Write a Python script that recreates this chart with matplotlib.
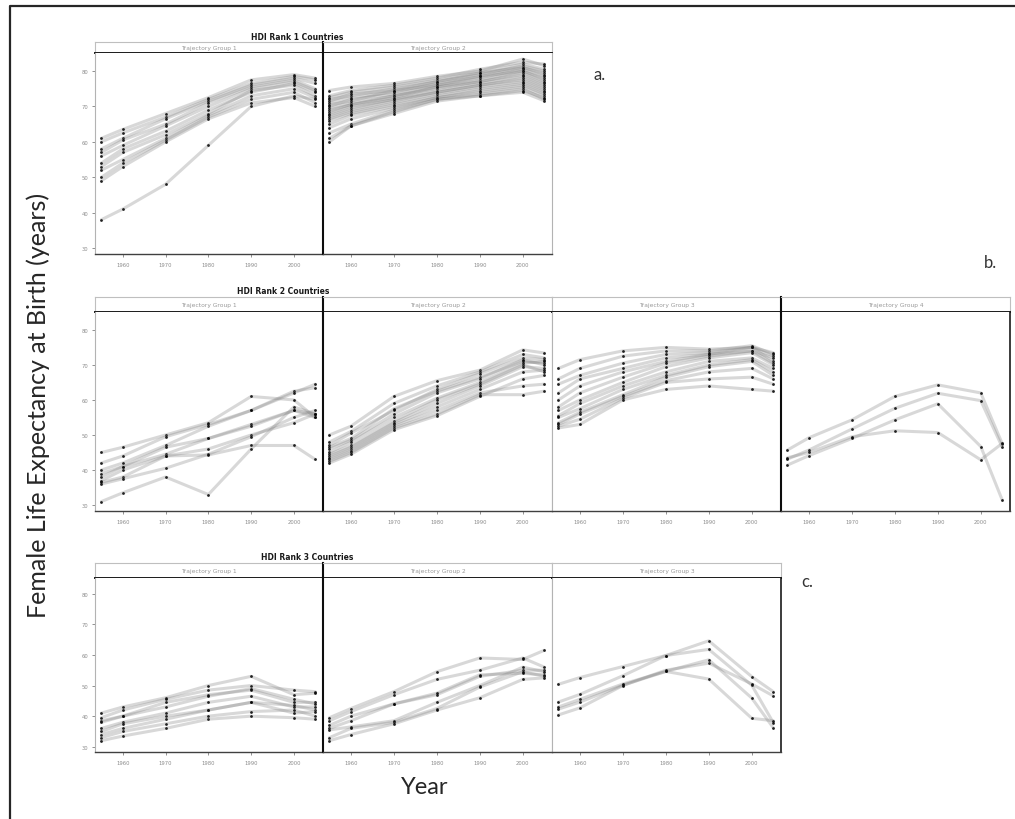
import matplotlib
matplotlib.use("Agg")
from matplotlib import pyplot as plt
from matplotlib.lines import Line2D

years = [1955, 1960, 1970, 1980, 1990, 2000, 2005]

# HDI rank 1 countries
rank1_group1 = [
    [61, 63.5, 68, 72.5, 77.5, 79, 78],
    [60, 62.5, 67, 72, 76.5, 78.5, 77.5],
    [58, 61, 66.5, 71.5, 76, 78, 76.5],
    [57, 60.5, 65, 71, 75.5, 77.5, 75],
    [56, 59, 64.5, 70, 75, 77, 74.5],
    [54, 58, 63, 69, 74, 76.5, 74],
    [53, 57, 62, 68, 74.5, 76, 73],
    [52, 55, 61, 67.5, 73, 75, 72.5],
    [50, 54, 60.5, 67, 72, 74, 71],
    [49, 53, 60, 66.5, 71, 72.5, 70],
    [38, 41, 48, 59, 70, 73, 72],
]
rank1_group2 = [
    [74.5, 75.5, 76.5, 78.5, 80, 83.4, 81.5],
    [73, 74.5, 76, 78, 80.5, 82.5, 82],
    [72.5, 74, 75.5, 77.5, 79.5, 82, 80.5],
    [72, 73, 75, 77, 79, 81.5, 80],
    [71.5, 73.5, 74.5, 77, 79.5, 81, 79.5],
    [71, 72.5, 74, 76.5, 78.5, 81, 79],
    [70.5, 71.5, 74.5, 76, 78, 80.5, 78.5],
    [70, 72, 73.5, 76, 78.5, 80, 78],
    [69.5, 71, 73, 75.5, 77.5, 80, 77.5],
    [69, 70.5, 73, 75, 77, 79.5, 77],
    [68.5, 70.5, 72.5, 75.5, 77, 79, 76.5],
    [68, 70, 72, 74.5, 76.5, 78.5, 76],
    [67.5, 69.5, 72, 74, 76, 78, 75.5],
    [67, 69, 71.5, 74, 76, 77.5, 75],
    [66.5, 68.5, 71, 73.5, 75.5, 77, 74.5],
    [66, 68, 70.5, 73, 75, 76.5, 74],
    [65, 67.5, 70, 72.5, 74.5, 76, 73.5],
    [64, 66.5, 69.5, 72.5, 74, 75.5, 73],
    [62.5, 65, 69, 72, 73.5, 75, 72],
    [61, 64.5, 68.5, 72, 73, 74, 71.6],
    [60, 64.5, 68, 71.5, 73, 74.5, 72.5],
]

# HDI rank 2 countries
rank2_group1 = [
    [45, 46.5, 50, 53.5, 61, 60, 55],
    [42, 44, 49.5, 53, 57, 62.5, 63.5],
    [40, 42, 47, 52.5, 57, 62, 64.5],
    [39, 41, 46.5, 49, 53, 57, 56],
    [38, 41, 44.5, 49, 52.5, 57, 55],
    [36.5, 38, 44, 46, 50, 53.5, 56],
    [36, 37.5, 40.5, 44.5, 49.5, 55, 57],
    [37, 40, 44, 44.3, 47, 47, 43],
    [31, 33.5, 38, 33, 46, 58, 56],
]
rank2_group2 = [
    [50, 52.5, 61, 65.5, 68.5, 74.3, 73.4],
    [48, 51, 59, 64, 68, 73, 72],
    [47, 50.5, 57, 63, 67.5, 72, 71.5],
    [46.5, 49, 57.5, 62.5, 66.5, 71, 70.5],
    [46, 48.5, 56, 62, 66, 71.5, 70],
    [45, 48, 55, 60.5, 65, 70.5, 71],
    [44.5, 47, 54, 60, 64.5, 70, 68],
    [44, 46.5, 53.5, 59, 64, 69.5, 69],
    [43.5, 46, 53, 58, 63, 68, 68.5],
    [43, 45.5, 52.5, 57, 62, 64, 64.5],
    [42.5, 45, 52, 56, 61.5, 61.5, 62.5],
    [42, 44.5, 51.5, 55.5, 61, 66, 67],
]
rank2_group3 = [
    [69, 71.5, 74, 75, 74.5, 75, 73.5],
    [66, 69, 72.5, 74, 74, 75.5, 73],
    [64.5, 67, 70.5, 73, 73.5, 75, 72.5],
    [62, 66, 69, 72, 73, 74, 72],
    [60, 64, 68, 71, 73, 75, 71],
    [58, 62, 66.5, 70.5, 72.5, 74, 70.5],
    [57, 60, 65, 69.5, 72, 73.5, 70],
    [55.5, 59, 64, 68, 71, 72, 69],
    [55, 57.5, 63, 67, 70, 71.5, 68],
    [53.5, 56.5, 61.5, 66.5, 69.5, 71, 67],
    [53, 56, 61, 65.5, 68, 69, 66],
    [52.5, 54.5, 60.5, 65, 66, 66.5, 64.5],
    [52, 53, 60, 63, 64, 63, 62.5],
]
rank2_group4 = [
    [45.7, 49.2, 54.3, 61, 64.3, 62, 47.5],
    [43.1, 45.7, 51.7, 57.6, 61.9, 59.8, 46.5],
    [41.4, 44.1, 49, 54.3, 58.9, 46.7, 31.4],
    [43.5, 45, 49.5, 51.2, 50.7, 42.9, 47.6],
]

# HDI rank 3 countries
rank3_group1 = [
    [41, 43, 46, 50, 53, 47, 47.5],
    [39.5, 42, 45.5, 48.5, 50, 48.5, 48],
    [38.5, 40, 44.5, 47, 48.5, 44.5, 44.5],
    [38, 40, 43, 46.5, 49, 45.5, 44],
    [36, 38, 41, 44.5, 46.5, 43, 43],
    [35, 37.5, 40, 42, 44.5, 43.5, 42],
    [34, 36, 39, 42, 44.5, 41, 41.5],
    [33, 35, 37.5, 40, 41.5, 42, 40],
    [32, 33.5, 36, 39, 40, 39.5, 39],
]
rank3_group2 = [
    [39.5, 42.5, 48, 54.5, 59, 58.5, 61.5],
    [38.5, 41.5, 47, 52, 55, 59, 56],
    [37, 40, 44, 47, 53, 55, 55],
    [36, 38.5, 44, 47.5, 53.5, 54, 53.5],
    [35.5, 36.5, 38.5, 44.5, 50, 56, 54.5],
    [33, 36, 38, 42.5, 49.5, 54.5, 53],
    [32, 34, 37.5, 42, 46, 52, 52.5],
]
rank3_group3 = [
    [50.4, 52.6, 56.2, 59.8, 64.6, 52.9, 48],
    [44.6, 47.1, 53.2, 59.8, 61.8, 50.1, 37.9],
    [42.3, 44.6, 50.1, 54.6, 58.4, 45.9, 36.2],
    [40.4, 42.7, 50, 55, 57.3, 50.5, 46.6],
    [43, 45.5, 50.5, 54.6, 52.1, 39.3, 38.5],
]

W, H = 1015, 820
fig = plt.figure(figsize=(W / 100, H / 100), dpi=100)


def px_axes(x0, y0, x1, y1):
    return fig.add_axes([x0 / W, 1 - y1 / H, (x1 - x0) / W, (y1 - y0) / H])


lefts = [95, 323, 552, 781, 1010]
rows = [
    ("HDI Rank 1 Countries", 297, 43, 54, 255, [rank1_group1, rank1_group2]),
    ("HDI Rank 2 Countries", 283, 298, 313, 512,
     [rank2_group1, rank2_group2, rank2_group3, rank2_group4]),
    ("HDI Rank 3 Countries", 307, 564, 579, 753,
     [rank3_group1, rank3_group2, rank3_group3]),
]
dark_left = {(0, 1), (1, 1), (1, 3), (2, 1)}

for r, (title, tx, s_top, p_top, p_bot, groups) in enumerate(rows):
    fig.text(tx / W, 1 - (s_top - 6) / H, title, ha="center", va="center",
             fontsize=5.5, fontweight="bold", color="0.1")
    for g, series in enumerate(groups):
        x0, x1 = lefts[g], lefts[g + 1]
        # strip
        st = px_axes(x0, s_top, x1, p_top)
        st.set_xticks([])
        st.set_yticks([])
        for side in ["top", "left", "right"]:
            st.spines[side].set_color("0.75")
            st.spines[side].set_linewidth(0.8)
        st.spines["bottom"].set_color("0.1")
        st.spines["bottom"].set_linewidth(1.4)
        st.text(0.5, 0.5, "Trajectory Group %d" % (g + 1), ha="center", va="center",
                fontsize=4.3, color="0.6", transform=st.transAxes)

        ax = px_axes(x0, p_top, x1, p_bot)
        for s in series:
            ax.plot(years, s, color="0.5", alpha=0.3, lw=2.2, solid_capstyle="round")
            ax.plot(years, s, "o", ms=2.0, color="black", alpha=0.85, markeredgewidth=0)
        ax.set_xlim(1953.5, 2006.8)
        ax.set_ylim(28.3, 85.1)
        ax.set_xticks([1960, 1970, 1980, 1990, 2000])
        ax.tick_params(axis="x", labelsize=3.8, labelcolor="0.55", color="0.5",
                       length=2, width=0.6, pad=4)
        if g == 0:
            ax.set_yticks([30, 40, 50, 60, 70, 80])
            ax.tick_params(axis="y", labelsize=3.8, labelcolor="0.55", color="0.5",
                           length=2, width=0.6, pad=3)
        else:
            ax.set_yticks([])
        for side in ["top", "left", "right"]:
            ax.spines[side].set_color("0.7")
            ax.spines[side].set_linewidth(0.8)
        ax.spines["top"].set_visible(False)
        ax.spines["bottom"].set_color("0.25")
        ax.spines["bottom"].set_linewidth(1.0)
        if (r, g) in dark_left:
            ax.spines["left"].set_color("0.05")
            ax.spines["left"].set_linewidth(1.5)
            st.spines["left"].set_color("0.05")
            st.spines["left"].set_linewidth(1.5)
        if r > 0 and g == len(groups) - 1:
            ax.spines["right"].set_color("0.1")
            ax.spines["right"].set_linewidth(1.2)

# axis titles and panel letters
fig.text(38 / W, 1 - 405 / H, "Female Life Expectancy at Birth (years)", rotation=90,
         ha="center", va="center", fontsize=18, family="Lato", color="0.15")
fig.text(425 / W, 1 - 788 / H, "Year", ha="center", va="center",
         fontsize=17, family="Lato", color="0.15")
fig.text(600 / W, 1 - 75 / H, "a.", ha="center", va="center", fontsize=12,
         family="Lato", color="0.2")
fig.text(990 / W, 1 - 263 / H, "b.", ha="center", va="center", fontsize=12,
         family="Lato", color="0.2")
fig.text(807 / W, 1 - 582 / H, "c.", ha="center", va="center", fontsize=12,
         family="Lato", color="0.2")

# scanned page frame
fig.add_artist(Line2D([10 / W, 10 / W, 1.0], [0.0, 1 - 7 / H, 1 - 7 / H],
                      transform=fig.transFigure, color="0.15", lw=1.6))

fig.savefig("out.png", dpi=100, facecolor="white")
